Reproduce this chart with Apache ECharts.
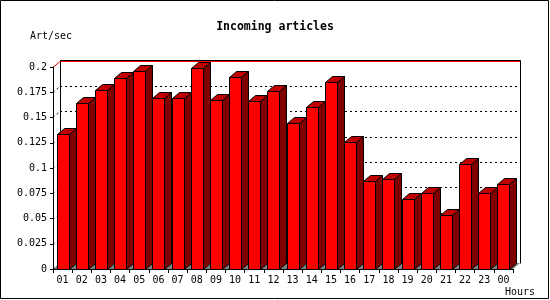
<!DOCTYPE html>
<html>
<head>
<meta charset="utf-8">
<script src="https://cdn.jsdelivr.net/npm/echarts@6/dist/echarts.min.js"></script>
<style>html,body{margin:0;padding:0;background:#fff}#c{width:550px;height:300px}</style>
</head>
<body>
<div id="c"></div>
<script>
// ---- data ----
const hours = ['01','02','03','04','05','06','07','08','09','10','11','12','13','14','15','16','17','18','19','20','21','22','23','00'];
const articlesPerSec = [0.134,0.164,0.177,0.189,0.196,0.169,0.169,0.199,0.167,0.190,0.166,0.176,0.145,0.160,0.185,0.126,0.087,0.089,0.069,0.075,0.053,0.104,0.075,0.084];
const yMin = 0, yMax = 0.2, yStep = 0.025;
const titleText = 'Incoming articles';
const yName = 'Art/sec';
const xName = 'Hours';

// ---- style ----
const DX = 7, DY = -6;
const FONT = 'DejaVu Sans Mono';
const FRONT = '#ff0000', TOP = '#c00000', SIDE = '#800000', FLOOR = '#808080';

const chart = echarts.init(document.getElementById('c'), null, {renderer: 'canvas'});

function renderWall(params, api) {
  const cs = params.coordSys;
  const L = cs.x, R = cs.x + cs.width;
  const children = [];
  const y0 = api.coord([0, yMin])[1];
  // floor
  children.push({type: 'polygon', shape: {points: [[L, y0], [R, y0], [R + DX, y0 + DY], [L + DX, y0 + DY]]},
    style: {fill: FLOOR, stroke: null}});
  const nT = Math.round((yMax - yMin) / yStep);
  const yTop = api.coord([0, yMax])[1];
  const yt = Math.round(yTop) + DY - 0.5;
  const yb = Math.round(y0) + DY + 0.5;
  children.push({type: 'line', shape: {x1: L + DX, y1: yt, x2: R + DX + 0.5, y2: yt}, style: {stroke: '#000', lineWidth: 1}});
  children.push({type: 'line', shape: {x1: Math.round(L + DX) + 0.5, y1: yt, x2: Math.round(L + DX) + 0.5, y2: yb}, style: {stroke: '#000', lineWidth: 1}});
  children.push({type: 'line', shape: {x1: Math.round(R + DX) + 0.5, y1: yt, x2: Math.round(R + DX) + 0.5, y2: yb}, style: {stroke: '#000', lineWidth: 1}});
  for (let i = 0; i <= nT; i++) {
    const v = yMin + i * yStep;
    const y = Math.round(api.coord([0, v])[1]) + 0.5;
    const isTop = i === nT;
    const st = isTop ? {stroke: '#ff0000', lineWidth: 1} : {stroke: '#000', lineWidth: 1, lineDash: [2, 3]};
    if (i > 0) {
      children.push({type: 'line', shape: {x1: L + DX + (isTop ? 0.5 : 0), y1: y + DY, x2: R + DX, y2: y + DY}, style: st});
    }
    children.push({type: 'line', shape: {x1: L, y1: y, x2: L + DX, y2: y + DY}, style: st});
  }
  return {type: 'group', children: children};
}

function renderBar(params, api) {
  const idx = api.value(0), v = api.value(1);
  const base = api.coord([idx, 0]);
  const top = api.coord([idx, v]);
  const bw = Math.round(api.size([1, 0])[0] * 0.62);
  const x0 = Math.round(base[0] - bw / 2) + 0.5, x1 = x0 + bw;
  const y0 = Math.round(base[1]) + 0.5, y1 = Math.round(top[1]) + 0.5;
  const line = {stroke: '#000', lineWidth: 1, lineJoin: 'miter'};
  return {type: 'group', children: [
    {type: 'polygon', shape: {points: [[x1, y1], [x1 + DX, y1 + DY], [x1 + DX, y0 + DY], [x1, y0]]}, style: Object.assign({fill: SIDE}, line)},
    {type: 'polygon', shape: {points: [[x0, y1], [x0 + DX, y1 + DY], [x1 + DX, y1 + DY], [x1, y1]]}, style: Object.assign({fill: TOP}, line)},
    {type: 'rect', shape: {x: x0, y: y1, width: bw, height: y0 - y1}, style: Object.assign({fill: FRONT}, line)}
  ]};
}

const option = {
  animation: false,
  backgroundColor: '#fff',
  title: {text: titleText, left: 'center', top: 21, padding: 0,
    textStyle: {fontFamily: FONT, fontSize: 11.5, fontWeight: 'bold', color: '#000'}},
  grid: {left: 53, top: 67, width: 460, height: 202},
  xAxis: {type: 'category', data: hours,
    axisLine: {lineStyle: {color: '#000', width: 1}},
    axisTick: {show: true, length: 4, lineStyle: {color: '#000'}},
    axisLabel: {fontFamily: FONT, fontSize: 10, color: '#000', margin: 6, interval: 0},
    splitLine: {show: false}, z: 10},
  yAxis: {type: 'value', min: yMin, max: yMax, interval: yStep,
    axisLine: {show: true, lineStyle: {color: '#000', width: 1}},
    axisTick: {show: true, length: 3, lineStyle: {color: '#000'}},
    axisLabel: {fontFamily: FONT, fontSize: 10, color: '#000', margin: 6},
    splitLine: {show: false}, z: 10},
  series: [
    {type: 'custom', name: 'wall', renderItem: renderWall, data: [[0, 0]], z: 1, silent: true},
    {type: 'custom', name: 'Art/sec', renderItem: renderBar,
      data: articlesPerSec.map((v, i) => [i, v]), encode: {x: 0, y: 1}, z: 2}
  ],
  graphic: [
    {type: 'rect', shape: {x: 0.5, y: 0.5, width: 548, height: 298}, style: {fill: null, stroke: '#000', lineWidth: 1}, z: 100},
    {type: 'text', left: 30, top: 31, style: {text: yName, font: '10px "DejaVu Sans Mono"', fill: '#000'}},
    {type: 'text', left: 505, top: 287, style: {text: xName, font: '10px "DejaVu Sans Mono"', fill: '#000'}}
  ]
};
chart.setOption(option);
</script>
</body>
</html>
